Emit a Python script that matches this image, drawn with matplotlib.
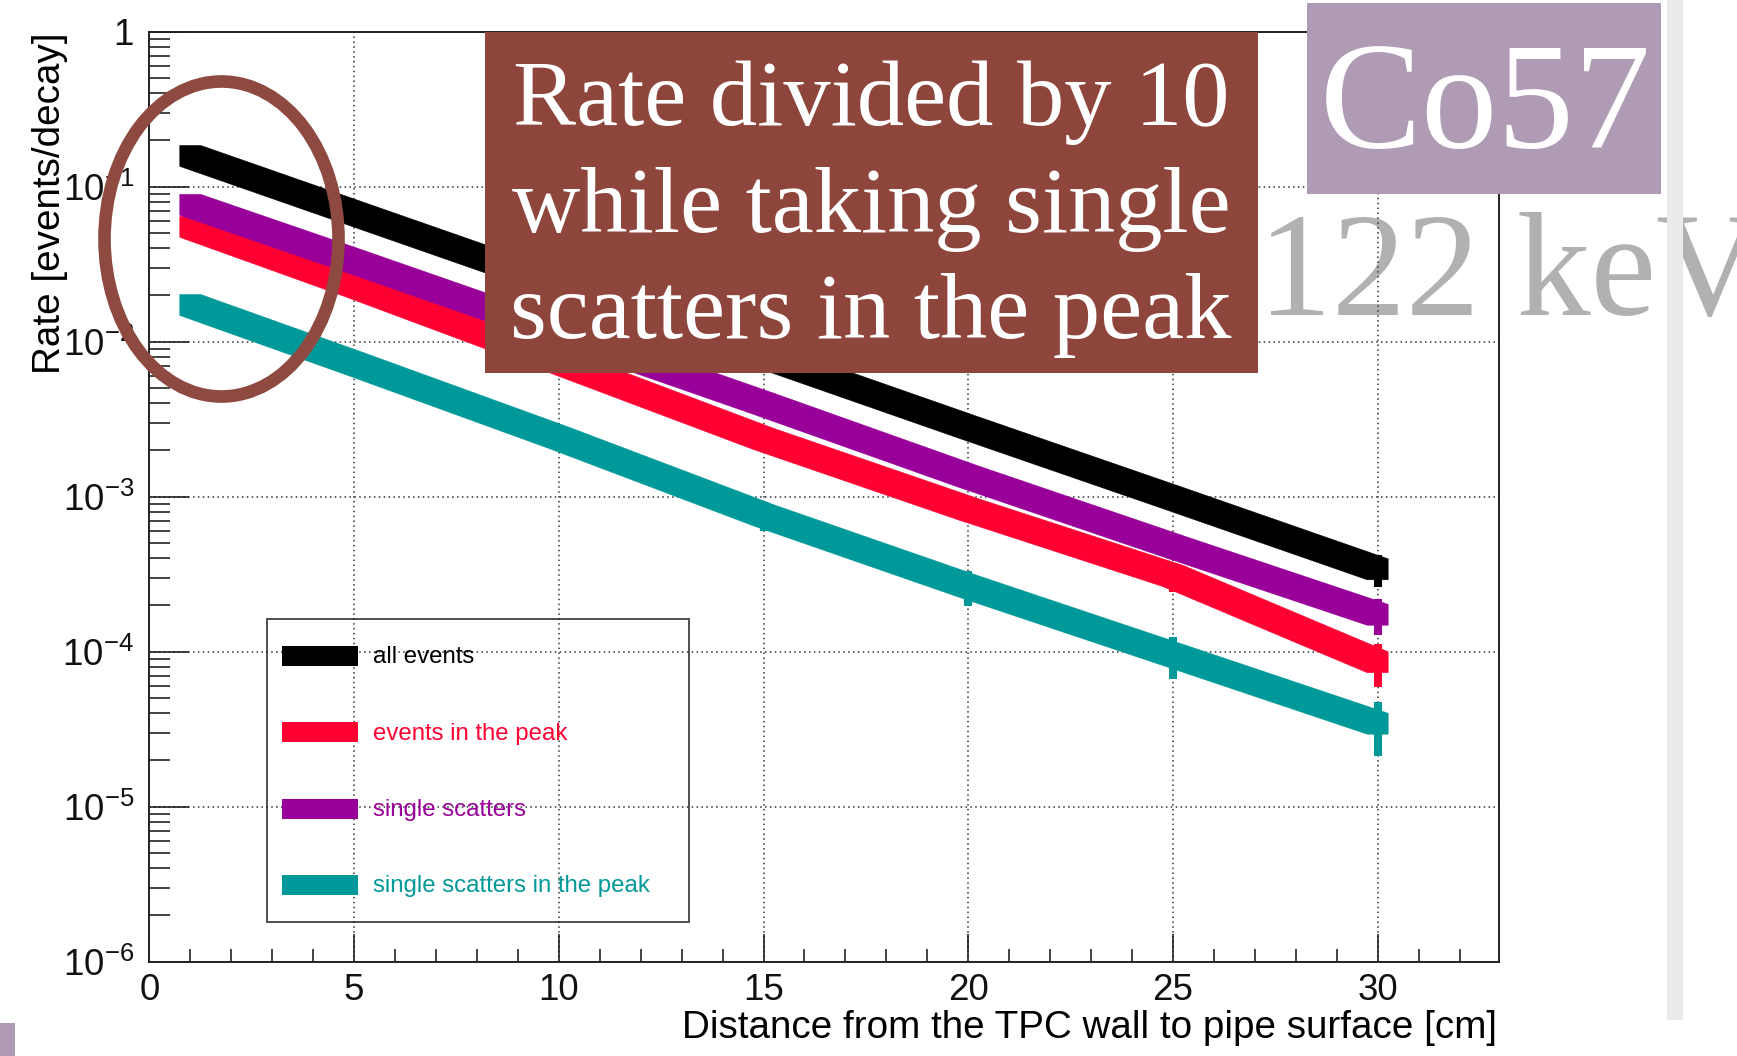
import math
import numpy as np
import matplotlib
matplotlib.use("Agg")
import matplotlib.pyplot as plt
from matplotlib.patches import Rectangle, Ellipse, Patch, Polygon
from matplotlib.legend_handler import HandlerPatch
from matplotlib.transforms import IdentityTransform
from matplotlib.ticker import MultipleLocator, LogLocator, NullFormatter, FuncFormatter

# ---- data -------------------------------------------------------------
distance_cm = [1, 5, 10, 15, 20, 25, 30]

rate_all = [0.158, 0.0676, 0.0234, 8.1e-3, 2.8e-3, 9.8e-4, 3.4e-4]
err_all = [2.0e-3, 1.5e-3, 8.0e-4, 4.5e-4, 2.5e-4, 1.4e-4, 8.0e-5]

rate_peak = [0.0551, 0.0230, 7.41e-3, 2.36e-3, 8.30e-4, 3.08e-4, 8.55e-5]
err_peak = [1.0e-3, 6.0e-4, 3.0e-4, 1.8e-4, 1.08e-4, 6.6e-5, 2.65e-5]

rate_single = [0.0764, 0.0331, 0.01148, 3.98e-3, 1.35e-3, 4.79e-4, 1.73e-4]
err_single = [1.2e-3, 8.0e-4, 4.0e-4, 2.4e-4, 1.6e-4, 7.2e-5, 4.5e-5]

rate_single_peak = [0.01726, 7.24e-3, 2.40e-3, 7.59e-4, 2.64e-4, 9.53e-5, 3.43e-5]
err_single_peak = [8.6e-4, 6.5e-4, 3.6e-4, 1.6e-4, 6.6e-5, 2.9e-5, 1.32e-5]

series_labels = ["all events", "events in the peak", "single scatters",
                 "single scatters in the peak"]
series_colors = ["#000000", "#FF0033", "#990099", "#009999"]

x_label = "Distance from the TPC wall to pipe surface [cm]"
y_label = "Rate [events/decay]"
note_lines = ["Rate divided by 10", "while taking single", "scatters in the peak"]
source_label = "Co57"
energy_label = "122 keV"

# ---- style ------------------------------------------------------------
plt.rcParams["font.family"] = ["Liberation Sans", "DejaVu Sans"]
plt.rcParams["mathtext.fontset"] = "custom"
plt.rcParams["mathtext.rm"] = "Liberation Sans"
plt.rcParams["mathtext.it"] = "Liberation Sans:italic"
plt.rcParams["mathtext.bf"] = "Liberation Sans:bold"

W, H = 1737, 1056
fig = plt.figure(figsize=(W / 100, H / 100), dpi=100)
fig.patch.set_facecolor("white")


def fx(px):
    return px / W


def fy(py):
    return 1 - py / H


ax_l, ax_r, ax_t, ax_b = 149.3, 1498.5, 31.7, 961.7
ax = fig.add_axes([fx(ax_l), fy(ax_b), (ax_r - ax_l) / W, (ax_b - ax_t) / H])
ax.set_facecolor("none")
ax.set_zorder(1)

ax.set_yscale("log")
ax.set_xlim(0, 32.95)
ax.set_ylim(1e-6, 1)

# dotted grid under the curves
ax.grid(True, which="major", color="#333333", linestyle=(0, (1, 2.2)), linewidth=1.1)
ax.set_axisbelow(True)


def square_brush_band(xs, ys, half, color, z):
    """Outline of a square pen of side 2*half (pixels) swept along the polyline."""
    p = ax.transData.transform(np.column_stack([xs, ys]))
    upper = p + [half, half]
    lower = p + [-half, -half]
    verts = ([p[0] + [-half, -half], p[0] + [-half, half]] + list(upper)
             + [p[-1] + [half, -half]] + list(lower[::-1]))
    poly = Polygon(verts, closed=True, facecolor=color, edgecolor=color,
                   linewidth=0.3, transform=IdentityTransform(), zorder=z)
    ax.add_patch(poly)


all_rates = [rate_all, rate_peak, rate_single, rate_single_peak]
all_errs = [err_all, err_peak, err_single, err_single_peak]
for k in range(4):
    c = series_colors[k]
    z = 3 + k * 0.1
    ax.errorbar(distance_cm, all_rates[k], yerr=all_errs[k], fmt="none",
                ecolor=c, elinewidth=5.8, capsize=0, zorder=z)
    square_brush_band(distance_cm, all_rates[k], 10.5, c, z)

# axes ticks (inside, left and bottom only)
ax.xaxis.set_major_locator(MultipleLocator(5))
ax.xaxis.set_minor_locator(MultipleLocator(1))
ax.yaxis.set_major_locator(LogLocator(base=10, numticks=20))
ax.yaxis.set_minor_locator(LogLocator(base=10, subs=range(2, 10), numticks=20))
ax.yaxis.set_minor_formatter(NullFormatter())


def ylab(v, pos):
    e = int(round(math.log10(v)))
    if e == 0:
        return "1"
    return r"$10^{%d}$" % e


ax.yaxis.set_major_formatter(FuncFormatter(ylab))
ax.tick_params(axis="both", which="both", direction="in", top=False, right=False,
               colors="#111111", width=1.1, labelsize=26.5)
ax.tick_params(axis="y", which="major", length=29, pad=11)
ax.tick_params(axis="y", which="minor", length=15)
ax.tick_params(axis="x", which="major", length=20, pad=8)
ax.tick_params(axis="x", which="minor", length=9.6)
for sp in ax.spines.values():
    sp.set_linewidth(1.4)
    sp.set_color("#222222")

fig.text(fx(50), fy(32), y_label, rotation=90, ha="center", va="top", fontsize=27.8)
fig.text(fx(1497), fy(1038), x_label, ha="right", va="baseline", fontsize=27.8)

# legend with coloured labels and flat swatches
leg_fs = 17.3
swatch_h = 14.4


def swatch(legend, orig_handle, xdescent, ydescent, width, height, fontsize):
    return Rectangle((-xdescent, -ydescent + (height - swatch_h) / 2), width, swatch_h)


handles = [Patch(facecolor=c, edgecolor="none") for c in series_colors]
inv = ax.transAxes.inverted()
lx0, ly1 = inv.transform((266.7, H - 619))
lx1, _ = inv.transform((689.3, H - 619))
leg = ax.legend(handles, series_labels, loc="upper left",
                bbox_to_anchor=(lx0, ly1 - 0.5, lx1 - lx0, 0.5), mode="expand",
                borderaxespad=0, fontsize=leg_fs, frameon=True, fancybox=False,
                borderpad=0.64, handlelength=3.17, handleheight=2.4,
                handletextpad=0.63, labelspacing=1.37,
                handler_map={Patch: HandlerPatch(patch_func=swatch)})
leg.get_frame().set_facecolor("none")
leg.get_frame().set_edgecolor("#222222")
leg.get_frame().set_linewidth(1.4)
for t, c in zip(leg.get_texts(), series_colors):
    t.set_color(c)

# ---- annotations ------------------------------------------------------
# grey energy label sitting behind the plot frame
fig.text(fx(1258), fy(315), energy_label, ha="left", va="baseline",
         fontsize=106.5, family="Liberation Serif", color="#AFB2B1", zorder=-1)

# brown note box
fig.add_artist(Rectangle((fx(485), fy(373)), (1258 - 485) / W, (373 - 32) / H,
                         transform=fig.transFigure, facecolor="#8E453C",
                         edgecolor="none", zorder=5))
for line, base in zip(note_lines, [125, 232, 338]):
    fig.text(fx(871), fy(base), line, ha="center", va="baseline", fontsize=68,
             family="Liberation Serif", color="white", zorder=6)

# source tag
fig.add_artist(Rectangle((fx(1307), fy(194)), (1661 - 1307) / W, (194 - 3) / H,
                         transform=fig.transFigure, facecolor="#B09BB5",
                         edgecolor="none", zorder=5))
fig.text(fx(1485), fy(148), source_label, ha="center", va="baseline", fontsize=110,
         family="Liberation Serif", color="white", zorder=6)

# highlight around the first points
fig.add_artist(Ellipse((fx(221.5), fy(239)), 234 / W, 315 / H,
                       transform=fig.transFigure, facecolor="none",
                       edgecolor="#8E4A40", linewidth=9.1, zorder=5))

# slide decorations
fig.add_artist(Rectangle((fx(1667), fy(1020)), 16 / W, 1020 / H,
                         transform=fig.transFigure, facecolor="#EAEAEA",
                         edgecolor="none", zorder=7))
fig.add_artist(Rectangle((fx(0), fy(1056)), 15 / W, 33 / H,
                         transform=fig.transFigure, facecolor="#B09BB5",
                         edgecolor="none", zorder=7))

fig.savefig("out.png", dpi=100)
